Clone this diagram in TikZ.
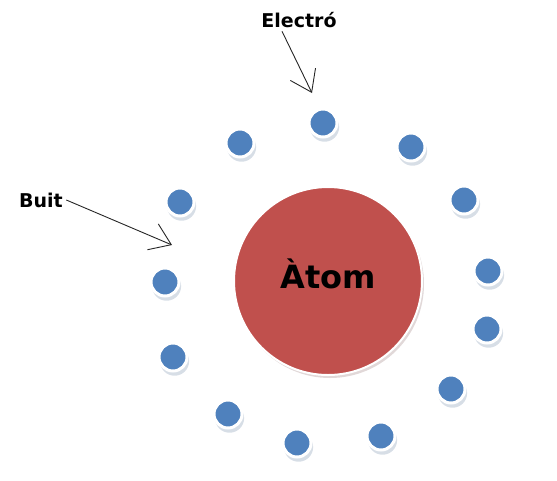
\documentclass[tikz,border=0pt]{standalone}
\usepackage{fontspec}
\setmainfont{DejaVu Sans}
\usetikzlibrary{shadows,arrows.meta}
\definecolor{electroblue}{HTML}{4F81BD}
\definecolor{atomred}{HTML}{C0504D}

\begin{document}
\begin{tikzpicture}[x=1pt,y=-1pt,
		      electro/.style={
				      circle, fill=electroblue,
				      draw=white, line width=3pt,
				      minimum size=28pt, inner sep=0pt,
				      drop shadow={shadow xshift=1.5pt, shadow yshift=-4pt, shadow scale=1.04, fill=black!30!electroblue!40} % ombra sotto a destra
			      },
		      nucli/.style={
				      circle, fill=atomred,
				      draw=white, line width=2pt,
				      minimum size=188pt, inner sep=0pt,
				      drop shadow={shadow xshift=2pt, shadow yshift=-3pt, fill=atomred!45!black!35}
			      },
		      nomatom/.style={font=\fontsize{32}{32}\selectfont\bfseries},
		      etiqueta/.style={font=\fontsize{19}{19}\selectfont\bfseries},
		      punter/.style={draw=black!85, line width=0.9pt, -{Straight Barb[length=20pt, width=28pt]}}
	      ]
	      \useasboundingbox (0,0) rectangle (557,480);
	      \node[nucli] (atom) at (328,281) {};
	      \node[nomatom, anchor=base] (txtatom) at ([yshift=-7pt]atom.center) {Àtom};
	      \foreach \px/\py [count=\i] in {323/123, 240/143, 411/147, 180/202, 464/200,
			      165/282, 488/271, 487/329, 173/357, 228/414, 451/389, 297/443, 381/436}
		      \node[electro] (e\i) at (\px,\py) {};
	      \node[etiqueta] (lblE) at (299,20) {Electró};
	      \node[etiqueta] (lblB) at (41,200) {Buit};
	      \coordinate (puntE) at (312,93);
	      \coordinate (puntB) at (172,245);
	      \draw[punter] ([xshift=-17pt]lblE.south) -- (puntE);
	      \draw[punter] (lblB.east) -- (puntB);
      \end{tikzpicture}
\end{document}
